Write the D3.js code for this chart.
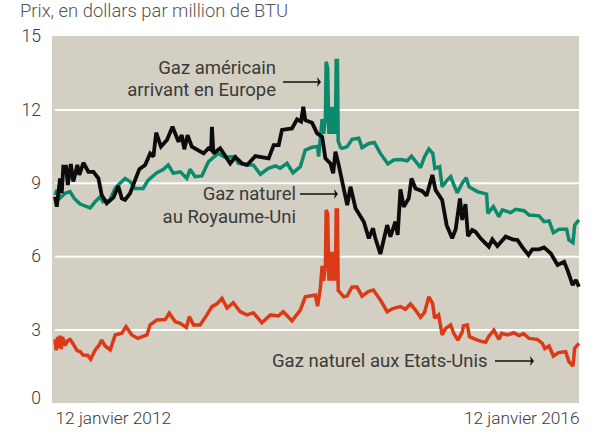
<!DOCTYPE html>
<html>
<head>
<meta charset="utf-8">
<script src="https://cdn.jsdelivr.net/npm/d3@7"></script>
<style>
  body { margin: 0; background: #fff; }
  svg { display: block; }
  text { font-family: Roboto, sans-serif; font-weight: 300; fill: #3a3a3a; }
</style>
</head>
<body>
<svg id="chart"></svg>
<script>
// weeks since 12 January 2012, prices in dollars per million BTU
const europeWeeks = [0,.7,2,4,6,7.6,10,14,16,18,19.1,21.9,23.9,25.1,27.9,29.9,31.9,35.1,37.1,40.6,43.2,45.1,47.1,49.9,52.5,53.8,55.8,58.5,61.1,63.1,65,67.8,71.8,73,76.5,79,81.8,85,87.8,89.7,92.4,94.8,97.7,99.7,102.4,104.6,105,106.4,107,107.7,108,108.6,109.1,109.7,110.5,111.2,111.7,112,112.5,112.8,113.7,114.4,116.4,118.3,121,122.3,125,127.2,129.6,132.6,134.9,137.6,140.3,142,145.6,147.2,148.9,150.5,151.3,153.2,154.2,156.2,157.6,158.9,160.2,162.2,163.8,164.9,168.2,171.9,172.4,174.6,176.8,178.2,181.5,183.5,186.8,188.8,192.8,194.8,196.8,198.5,200.8,203.8,204.7,206.3,207,208.7];
const europePrices = [8.5,8.7,8.38,8.57,8.64,8.37,8.13,7.97,8.23,8.43,8.23,8.3,8.77,8.9,9.18,9.05,8.77,8.77,9.11,9.41,9.55,9.73,9.39,9.45,9.18,9.55,9.25,9.28,9.86,10.04,10.2,10.04,10.07,9.8,9.73,9.73,9.35,9.59,9.69,9.6,9.8,9.41,9.66,10.34,10.45,10.48,10.07,11.6,11,11.6,13.95,13.7,11,12.1,11,12.1,11,14,14,10.7,10.45,10.41,10.48,10.78,10.82,10.44,10.61,10.65,10.2,9.77,9.93,9.95,9.9,10.09,9.62,10.07,10.38,10.2,9.59,9.66,8.84,9.11,9.25,8.91,8.59,8.98,9.21,8.84,8.64,8.54,7.75,8.03,7.62,7.89,7.78,7.92,7.86,7.68,7.65,7.41,7.44,6.96,7.1,7.1,6.66,6.55,7.27,7.48];

const ukWeeks = [0,.7,2,2.7,3.3,4.4,5.1,6.3,7.3,8.9,9.7,11.3,13.3,15.3,17.3,18.6,20.6,23.3,25.2,26.6,27.9,29.9,31.9,33.6,35.9,37.9,39.2,40.3,42.2,44.6,46.8,49.2,50.5,51.5,52.8,54.5,59.2,61.1,62.2,62.5,63.1,65.8,69.8,71.8,74.5,76.5,79.8,85.1,87.1,89.1,90.4,94.4,96.4,98,98.9,99.7,102.4,104.4,106.4,107.7,109.7,110.8,111.7,113,114.4,116.4,117.7,119.7,123,125,126.7,127.6,129.6,132.3,133.6,135.6,136.5,137.6,138.9,140.9,142,143.6,146.3,148,150.3,151.6,154.2,156,158.2,159.6,161.3,162.2,163.5,164.5,166.2,167.5,169.5,172.8,174.2,176.2,179.5,182.2,184.2,186.2,188.6,190.1,192.8,194.8,197.5,200.2,202.8,204.1,206.2,207.5,208.7];
const ukPrices = [8.43,8.02,9.18,8.58,9.66,9.66,8.91,9.77,9.05,9.73,9.32,9.82,9.45,9.45,9.18,8.5,8.16,8.4,8.87,8.36,8.3,8.57,9.11,9.56,9.73,10.2,10.07,11.05,10.48,10.75,11.29,10.68,10.95,10.37,10.95,10.48,10.2,10.41,10.35,11.29,10.2,10.41,9.79,10.05,9.79,9.73,10.09,10,10.54,10.54,11.16,11.22,11.59,11.5,12.11,11.56,11.45,11.02,10.88,10,9.79,9.39,10.27,9.73,9.05,8.09,8.84,7.96,7.41,6.73,7.14,6.73,6.09,7.27,6.8,7.41,6.87,8.73,8.02,8.36,9.18,8.77,8.66,8.47,9.32,8.7,8.3,7.27,6.73,7.1,8.36,7.48,8.13,6.82,7.07,7,6.73,6.39,6.69,6.42,6.8,6.69,6.66,6.36,6.05,6.28,6.28,6.36,6.11,5.64,5.77,5.44,4.82,5.03,4.75];

const usWeeks = [0,.5,1,1.5,2,2.5,3,4,5,6,7,8.8,10,11.2,13,14.2,16,17.5,18.6,20,22,24,26.6,28.3,30.6,33,36.6,37.9,40.6,43.9,45.5,47.9,49.9,52.3,53.5,55.2,57.8,60.5,62.5,64.5,66.5,68.5,71,73.8,76.5,79,82.4,85.8,89,90.9,94.4,97.7,99.7,103.7,104.6,105.7,106.4,107,107.7,108,108.6,109.1,109.7,110.5,111.2,111.7,112,112.5,112.8,115,116.4,118.3,120.3,122.3,124.8,126.8,129.6,132.3,134.3,136.3,137.6,139.6,141.6,143.6,145.6,147.2,148.9,150.4,151.2,152.8,154.2,155.6,157.6,158.8,160.5,162.2,162.7,164.2,165.1,167.5,169.5,171.5,172.7,174.8,176.8,177.9,180.2,182.8,184.7,186.7,188.8,192.1,194.1,195.1,196.8,198.5,200.6,203.4,204.7,206.3,207,208.7];
const usPrices = [2.6,2.15,2.7,2.25,2.75,2.2,2.7,2.35,2.55,2.6,2.45,2.14,2.1,1.96,1.95,1.79,2.17,2.35,2.57,2.33,2.17,2.78,2.85,3.12,2.78,2.64,2.78,3.19,3.39,3.41,3.67,3.32,3.26,3.09,3.53,3.19,3.19,3.6,3.94,4.05,4.28,3.88,4.1,3.73,3.6,3.69,3.28,3.6,3.56,3.73,3.36,3.8,4.34,4.41,3.96,4.7,5.6,5,5.6,7.89,7.75,5,6.18,5,6.18,5,7.89,7.89,4.6,4.34,4.38,4.74,4.74,4.37,4.55,4.62,4.21,3.73,3.85,3.91,3.94,3.83,4.05,3.8,3.5,3.7,4.34,4.07,3.47,3.6,2.78,3.05,3.19,2.85,2.57,2.9,3.15,3.19,2.71,2.6,2.53,2.48,2.71,2.98,2.6,2.85,2.78,2.87,2.76,2.83,2.64,2.6,2.44,2.23,2.33,1.92,2.06,2.1,1.69,1.51,2.24,2.44];

const yTicks = [0, 3, 6, 9, 12, 15];
const startLabel = '12 janvier 2012';
const endLabel = '12 janvier 2016';

const width = 603;
const height = 448;
const margin = { top: 36, left: 55, bottom: 45, right: 24 };

const svg = d3.select('#chart').attr('width', width).attr('height', height);

const start = new Date(2012, 0, 12);
const end = new Date(2016, 0, 12);
const weekDate = (w) => new Date(+start + w * 7 * 864e5);

const x = d3.scaleTime().domain([start, end]).range([margin.left, width - margin.right]);
const y = d3.scaleLinear().domain([0, 15]).range([height - margin.bottom, margin.top]);

svg.append('rect')
  .attr('x', 52).attr('y', margin.top)
  .attr('width', x(end) - 52)
  .attr('height', y(0) - y(15))
  .attr('fill', '#d3cfc3');

// white grid lines, only the inner ticks
svg.append('g')
  .attr('transform', `translate(${margin.left},0)`)
  .call(d3.axisRight(y).tickValues(yTicks.slice(1, -1)).tickSize(x(end) - margin.left).tickFormat(''))
  .call((g) => g.select('.domain').remove())
  .selectAll('line').attr('stroke', '#fff').attr('stroke-width', 2);

const yAxis = svg.append('g')
  .attr('transform', 'translate(41,0)')
  .call(d3.axisLeft(y).tickValues(yTicks).tickSize(0).tickPadding(0));
yAxis.select('.domain').remove();
yAxis.selectAll('text').style('font-size', '17.5px').style('font-family', 'Roboto, sans-serif').attr('fill', '#3a3a3a');
yAxis.selectAll('.tick').filter((d) => d === 0).select('text').attr('dy', '0.02em');

const xAxis = svg.append('g')
  .attr('transform', `translate(0,${y(0)})`)
  .call(d3.axisBottom(x).tickValues([start, end]).tickSize(0).tickPadding(9)
    .tickFormat((d) => (+d === +start ? startLabel : endLabel)));
xAxis.select('.domain').remove();
xAxis.selectAll('text')
  .style('font-size', '17.3px')
  .style('font-family', 'Roboto, sans-serif')
  .attr('fill', '#3a3a3a')
  .attr('text-anchor', (d) => (+d === +start ? 'start' : 'end'));

const line = d3.line().x((d) => x(weekDate(d[0]))).y((d) => y(d[1]));

const series = [
  { weeks: europeWeeks, prices: europePrices, color: '#0b8a6c', w: 3.5 },
  { weeks: ukWeeks, prices: ukPrices, color: '#0c0c0c', w: 3.8 },
  { weeks: usWeeks, prices: usPrices, color: '#db3a17', w: 3.5 },
];

series.forEach((s) => {
  svg.append('path')
    .datum(d3.zip(s.weeks, s.prices))
    .attr('fill', 'none')
    .attr('stroke', s.color)
    .attr('stroke-width', s.w)
    .attr('stroke-linejoin', 'miter')
    .attr('stroke-miterlimit', 2)
    .attr('d', line);
});

// title and annotations
svg.append('text').attr('x', 20).attr('y', 17).style('font-size', '18.4px').style('fill', '#555').text('Prix, en dollars par million de BTU');

const notes = [
  { t: 'Gaz américain', x: 276, y: 74, a: 'end' },
  { t: 'arrivant en Europe', x: 276, y: 96, a: 'end' },
  { t: 'Gaz naturel', x: 296, y: 200, a: 'end' },
  { t: 'au Royaume-Uni', x: 296, y: 223, a: 'end' },
  { t: 'Gaz naturel aux Etats-Unis', x: 272, y: 367, a: 'start' },
];
svg.selectAll('.note').data(notes).enter().append('text')
  .attr('class', 'note')
  .attr('x', (d) => d.x).attr('y', (d) => d.y)
  .attr('text-anchor', (d) => d.a)
  .style('font-size', '18.5px')
  .style('font-weight', 400)
  .text((d) => d.t);

const arrows = [
  { x1: 283, x2: 321, y: 82 },
  { x1: 300, x2: 338, y: 194 },
  { x1: 495, x2: 534, y: 361 },
];
const arrow = svg.selectAll('.arrow').data(arrows).enter().append('g').attr('class', 'arrow');
arrow.append('line')
  .attr('x1', (d) => d.x1).attr('x2', (d) => d.x2 - 2)
  .attr('y1', (d) => d.y).attr('y2', (d) => d.y)
  .attr('stroke', '#111').attr('stroke-width', 1.5);
arrow.append('path')
  .attr('d', (d) => `M${d.x2},${d.y}L${d.x2 - 4},${d.y - 5}L${d.x2 - 3},${d.y}L${d.x2 - 4},${d.y + 5}Z`)
  .attr('fill', '#111');
</script>
</body>
</html>
